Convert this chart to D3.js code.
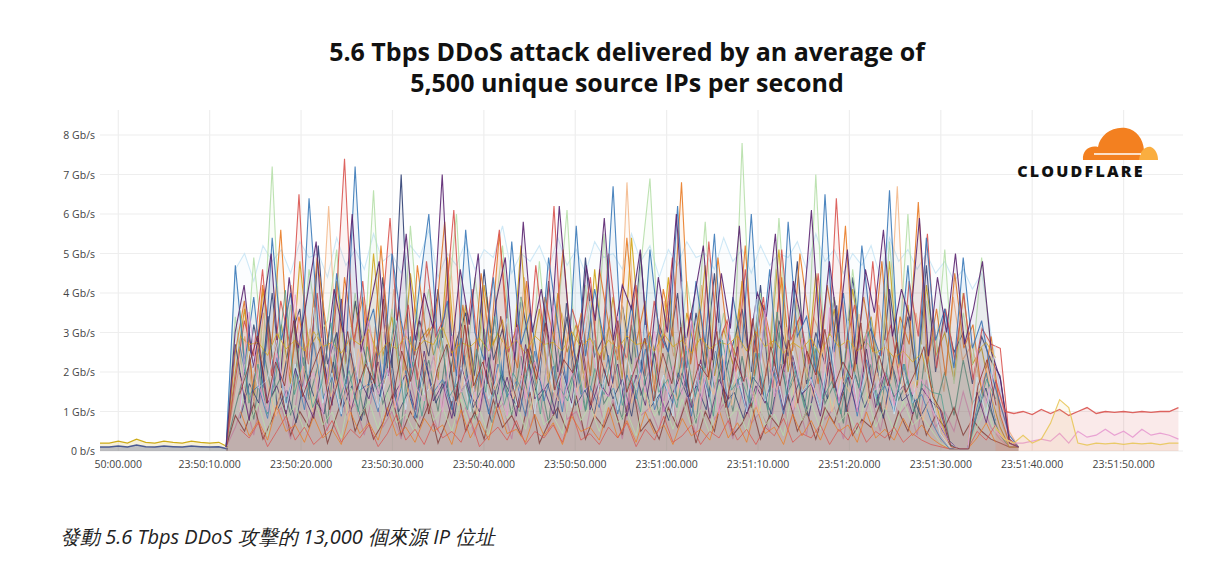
<!DOCTYPE html>
<html lang="en">
<head>
<meta charset="UTF-8">
<title>5.6 Tbps DDoS attack</title>
<script src="https://d3js.org/d3.v7.min.js"></script>
<style>
  body { margin: 0; background: #fff; font-family: "Open Sans", "DejaVu Sans", sans-serif; }
  svg text { font-family: "Open Sans", "DejaVu Sans", sans-serif; }
</style>
</head>
<body>
<svg id="chart" width="1226" height="575"></svg>
<script>
// time axis: seconds after 23:49:58
const tickSeconds = [2, 12, 22, 32, 42, 52, 62, 72, 82, 92, 102, 112];
const tickLabels = ["50:00.000", "23:50:10.000", "23:50:20.000", "23:50:30.000", "23:50:40.000",
  "23:50:50.000", "23:51:00.000", "23:51:10.000", "23:51:20.000", "23:51:30.000",
  "23:51:40.000", "23:51:50.000"];
const yTicks = [0, 1, 2, 3, 4, 5, 6, 7, 8];
const yLabels = ["0 b/s", "1 Gb/s", "2 Gb/s", "3 Gb/s", "4 Gb/s", "5 Gb/s", "6 Gb/s", "7 Gb/s", "8 Gb/s"];

// attack series, Gb/s, spread evenly between attackStart and attackEnd (seconds)
const attackStart = 13.8;
const attackEnd = 100.5;
const sPurple = [0.1,3.0,4.2,2.1,3.5,5.0,1.8,4.4,2.6,3.9,5.3,2.2,4.1,3.0,6.0,2.5,3.7,4.8,1.9,3.3,5.5,2.8,4.0,3.1,7.0,2.4,4.6,3.2,5.0,1.7,3.8,4.9,2.3,5.8,3.0,4.1,2.6,6.2,3.5,2.0,4.7,3.3,5.9,2.8,4.2,3.6,5.1,2.1,4.4,3.0,6.0,2.7,3.9,5.2,2.3,4.5,3.1,5.7,2.5,4.0,3.4,5.5,2.0,4.3,3.2,6.1,2.6,4.8,3.0,5.1,2.2,4.6,3.5,5.6,2.9,4.1,3.3,5.9,2.4,4.4,3.0,5.0,2.7,3.6,4.8,2.5,1.8,0.2,0.1];
const sOrange = [0.1,2.5,3.8,1.5,4.2,2.7,5.6,1.9,3.4,2.2,4.9,3.1,1.6,4.4,2.8,3.9,1.8,5.2,2.5,3.6,1.4,4.7,2.9,3.3,5.8,2.0,3.7,1.6,4.5,2.6,5.5,3.0,2.1,4.3,1.7,3.9,2.8,5.1,2.4,3.5,1.9,4.6,3.2,2.3,5.4,2.7,3.8,1.5,4.1,2.9,6.8,2.2,3.6,1.8,4.9,3.0,2.4,5.2,1.9,3.7,2.6,4.4,2.1,5.0,3.3,1.7,4.2,2.8,5.7,2.0,3.9,2.5,4.8,1.8,3.4,2.7,6.3,2.2,3.6,1.9,4.5,2.6,3.2,1.4,2.9,0.9,0.2,0.1];
const sBlue = [0.1,4.7,2.2,3.9,1.6,5.4,2.8,4.0,2.0,6.4,3.1,1.8,4.5,2.5,7.2,2.9,3.6,1.7,5.0,3.3,2.1,4.2,6.0,2.6,3.8,1.9,5.6,3.0,2.3,4.4,1.8,5.3,2.7,3.5,2.0,4.9,3.2,1.6,5.7,2.4,4.1,2.8,6.7,2.2,3.7,1.9,5.1,3.0,2.5,6.2,2.1,4.3,2.7,5.5,1.8,3.9,2.6,6.0,2.3,4.6,1.7,5.8,2.9,3.4,2.0,6.5,2.5,4.0,1.9,5.2,3.1,2.4,6.6,2.2,4.7,1.8,5.4,2.8,3.6,2.1,4.9,2.6,3.3,2.0,1.2,0.4,0.1];
const sRed = [0.1,1.8,3.3,2.4,4.6,1.9,3.8,2.7,6.5,2.2,4.0,1.7,3.5,7.4,2.6,4.3,2.0,3.1,5.9,2.4,3.7,1.8,4.8,2.9,3.4,6.1,2.2,4.1,1.6,3.9,5.6,2.5,3.2,1.9,4.7,2.7,6.2,2.1,3.6,2.8,4.4,1.7,5.0,3.0,2.3,4.2,1.9,3.8,2.6,4.9,2.1,3.5,1.8,5.3,2.7,3.3,2.0,4.6,2.5,3.9,1.6,5.1,2.8,3.4,2.2,4.5,1.9,6.4,2.6,3.7,2.0,4.8,2.4,3.2,1.7,4.3,2.9,5.5,2.1,3.6,2.3,4.0,1.8,3.1,2.7,2.6,0.3,0.1];
const sGreen = [0.1,3.4,1.6,4.9,2.5,7.2,2.0,3.7,1.8,4.6,2.9,3.3,5.1,1.9,4.0,2.6,6.6,2.2,3.6,1.7,5.7,2.8,4.1,2.0,3.5,6.0,1.9,4.4,2.6,3.1,5.2,2.3,3.9,1.8,4.8,2.4,3.4,6.1,2.1,4.2,1.7,5.5,2.7,3.6,2.0,4.7,6.9,2.5,3.8,1.9,4.3,2.8,5.8,2.2,3.5,1.6,7.8,2.4,4.0,2.0,5.9,2.6,3.7,1.8,7.0,2.3,3.9,2.1,4.6,2.7,3.3,1.9,5.3,2.5,6.0,2.0,3.8,2.4,5.1,1.7,3.5,2.2,4.9,2.6,0.8,0.2,0.1];
const sGold = [0.1,2.0,3.6,1.4,4.1,2.3,3.2,1.7,4.8,2.6,3.0,1.5,4.3,2.2,3.8,1.9,5.0,2.4,3.4,1.6,4.5,2.8,3.1,1.8,4.9,2.1,3.7,1.5,4.2,2.7,3.3,1.9,5.2,2.2,3.6,1.7,4.0,2.5,3.2,1.6,4.6,2.3,3.9,1.8,5.4,2.6,3.0,2.0,4.4,1.7,3.5,2.4,4.7,1.9,3.1,2.2,4.3,1.6,3.8,2.5,5.1,2.0,3.3,1.8,4.5,2.3,3.6,1.7,4.1,2.6,3.4,1.9,4.8,2.1,3.7,1.6,4.2,2.4,3.0,1.8,4.0,2.2,2.6,1.4,0.6,0.1,0.1];
const sNavy = [0.1,2.7,1.3,3.2,2.0,4.0,1.6,2.9,3.6,1.4,5.2,2.2,3.0,1.7,3.8,2.5,1.5,4.4,2.1,7.0,1.8,3.3,2.4,4.1,1.6,2.8,3.5,1.9,4.6,2.3,3.1,1.5,3.9,2.6,1.8,4.3,2.0,3.4,1.6,4.9,2.4,2.9,1.7,3.7,2.2,5.0,1.9,3.2,2.5,4.0,1.6,3.5,2.1,4.5,1.8,2.7,3.6,2.0,4.2,1.5,3.3,2.4,4.8,1.7,3.0,2.2,3.9,1.9,4.4,2.6,3.1,1.6,4.1,2.3,3.4,1.8,4.7,2.0,3.6,2.5,3.0,1.7,2.9,2.3,1.9,0.3,0.1];
const sPeach = [0.1,1.6,2.9,1.2,3.5,1.8,2.6,4.2,1.5,3.1,2.2,6.2,1.9,2.8,1.3,3.7,2.4,1.7,4.1,2.0,3.0,1.4,3.6,2.5,5.0,1.8,2.7,1.5,3.9,2.2,3.2,1.6,4.4,2.0,2.9,1.3,3.5,2.6,1.8,4.0,2.3,3.1,1.5,6.8,2.1,2.8,1.7,3.8,2.4,3.3,1.6,4.2,2.0,2.6,1.4,3.6,2.5,3.0,1.9,4.6,2.2,2.7,1.5,3.4,2.8,1.7,4.0,2.1,3.2,1.6,3.7,2.4,6.7,1.8,3.5,2.0,3.1,1.5,3.9,2.3,2.7,1.6,2.4,1.2,0.5,0.1];
const sTeal = [0.1,1.1,2.0,0.8,2.6,1.4,1.9,0.9,2.8,1.3,2.2,0.7,3.0,1.5,2.1,0.9,2.5,1.2,1.8,0.6,2.9,1.6,2.3,1.0,2.7,1.3,1.7,0.8,3.1,1.4,2.0,0.9,2.4,1.1,1.9,0.7,2.6,1.5,2.2,1.0,2.8,1.2,1.6,0.8,3.2,1.4,2.1,0.9,2.5,1.3,1.8,0.7,2.7,1.6,2.3,1.0,2.4,1.1,1.9,0.8,3.0,1.5,2.0,0.9,2.6,1.2,1.7,0.7,2.9,1.4,2.2,1.0,2.5,1.3,1.8,0.8,2.7,1.1,2.0,0.9,2.3,1.2,1.6,1.0,0.4,0.1,0.1];
const sRose = [0.1,0.6,1.3,0.4,1.7,0.8,1.1,0.3,1.9,0.7,1.4,0.5,2.1,0.9,1.2,0.4,1.6,0.6,1.0,0.3,1.8,0.8,1.3,0.5,2.0,0.7,1.1,0.4,1.5,0.9,1.2,0.3,1.9,0.6,1.4,0.5,2.2,0.8,1.0,0.4,1.7,0.7,1.3,0.3,1.6,0.9,1.1,0.5,2.0,0.6,1.4,0.4,1.8,0.8,1.2,0.3,1.5,0.7,1.0,0.5,1.9,0.6,1.3,0.4,2.1,0.8,1.1,0.3,1.7,0.7,1.4,0.5,1.6,0.9,1.2,0.4,1.8,0.6,1.0,0.5,1.5,0.7,1.2,0.6,0.3,0.1,0.1];
const sMaroon = [0.1,0.9,0.5,1.2,0.3,0.8,1.5,0.4,1.0,0.6,1.3,0.2,0.9,1.6,0.5,1.1,0.3,0.7,1.4,0.4,1.0,0.6,1.2,0.2,0.8,1.7,0.5,1.0,0.3,1.3,0.6,0.9,0.4,1.5,0.2,0.7,1.1,0.5,1.4,0.3,0.9,0.6,1.2,0.4,1.8,0.5,0.8,0.3,1.1,0.6,1.3,0.2,1.0,0.5,1.6,0.4,0.7,1.2,0.3,0.9,0.6,1.4,0.5,1.0,0.3,1.1,0.7,1.5,0.4,0.8,0.6,1.2,0.3,1.0,0.5,1.3,0.4,0.9,0.6,1.1,0.4,0.8,0.5,0.3,0.2,0.1,0.1];
const sSky = [0.1,4.6,5.0,4.3,5.2,4.8,5.1,4.5,5.3,4.9,5.0,4.4,5.4,4.7,5.1,4.6,5.5,4.8,5.0,4.5,5.2,4.9,5.6,4.4,5.0,4.7,5.3,4.6,5.1,4.9,5.7,4.5,5.0,4.8,5.2,4.6,5.4,4.7,5.1,4.5,5.3,4.9,5.0,4.6,5.5,4.8,5.2,4.4,5.1,4.7,5.3,4.9,5.0,4.6,5.4,4.8,5.1,4.5,5.2,4.7,5.0,4.9,5.3,4.6,5.5,4.8,5.1,4.5,5.0,4.7,5.2,4.4,5.4,4.8,5.1,4.6,5.0,4.5,4.8,4.3,4.6,4.1,4.5,3.0,1.5,0.3,0.1];

// before and after attack
const preValues = [0.2,0.2,0.25,0.2,0.3,0.22,0.2,0.25,0.22,0.2,0.25,0.22,0.2,0.22,0.1];
const tailStart = 98;
const tailRed = [1.8,1.0,0.95,1.0,0.92,1.05,0.95,1.05,0.9,1.0,1.1,0.95,1.0,0.98,1.0,0.97,1.0,0.98,1.0,1.0,1.1];
const tailPink = [0.5,0.3,0.2,0.2,0.25,0.3,0.25,0.45,0.2,0.5,0.35,0.4,0.55,0.4,0.5,0.35,0.55,0.4,0.45,0.4,0.3];
const tailGold = [0.6,0.3,0.2,0.4,0.2,0.3,0.7,1.3,1.1,0.2,0.15,0.2,0.18,0.2,0.17,0.2,0.18,0.2,0.16,0.2,0.2];

const attackSeries = [sSky, sPeach, sTeal, sRose, sMaroon, sGold, sNavy, sGreen, sOrange, sRed, sBlue, sPurple];
const attackColors = ["#c9e6f5", "#f3b98c", "#4a9c8c", "#e79ad0", "#8b2d2d", "#d2a515", "#2f3f73",
  "#b6dfa9", "#e97b25", "#d9534f", "#3b79b8", "#5a2470"];

const svg = d3.select("#chart");
const margin = { left: 100, right: 1183, top: 135, bottom: 451 };
const x = d3.scaleLinear().domain([0, 118.5]).range([margin.left, margin.right]);
const y = d3.scaleLinear().domain([0, 8]).range([margin.bottom, margin.top]);

// title
svg.append("text").attr("x", 627).attr("y", 61).attr("text-anchor", "middle")
  .attr("font-size", 25).attr("font-weight", 700).attr("fill", "#111")
  .text("5.6 Tbps DDoS attack delivered by an average of");
svg.append("text").attr("x", 627).attr("y", 92).attr("text-anchor", "middle")
  .attr("font-size", 25).attr("font-weight", 700).attr("fill", "#111")
  .text("5,500 unique source IPs per second");

// grid
svg.append("g").selectAll("line").data(yTicks).join("line")
  .attr("x1", margin.left).attr("x2", margin.right)
  .attr("y1", d => y(d)).attr("y2", d => y(d))
  .attr("stroke", "#eee").attr("stroke-width", 1.2);
svg.append("g").selectAll("line").data(tickSeconds).join("line")
  .attr("x1", d => x(d)).attr("x2", d => x(d))
  .attr("y1", margin.top - 25).attr("y2", margin.bottom)
  .attr("stroke", "#eee").attr("stroke-width", 1.2);

// axis labels
svg.append("g").selectAll("text").data(yTicks).join("text")
  .attr("x", 95).attr("y", d => y(d) + 4).attr("text-anchor", "end")
  .attr("font-size", 10.5).attr("fill", "#444").text((d, i) => yLabels[i]);
svg.append("g").selectAll("text").data(tickSeconds).join("text")
  .attr("x", d => x(d)).attr("y", 468).attr("text-anchor", "middle")
  .attr("font-size", 10.5).attr("fill", "#444").text((d, i) => tickLabels[i]);

const line = d3.line().x(d => x(d[0])).y(d => y(d[1]));
const area = d3.area().x(d => x(d[0])).y0(y(0)).y1(d => y(d[1]));
const plot = svg.append("g");

function draw(pts, color, width, fillOp) {
  plot.append("path").attr("d", area(pts)).attr("fill", color).attr("fill-opacity", fillOp);
  plot.append("path").attr("d", line(pts)).attr("fill", "none")
    .attr("stroke", color).attr("stroke-width", width).attr("stroke-opacity", 0.9);
}
const seq = (values, start, step) => values.map((v, i) => [start + i * step, v]);

// pre-attack baseline
draw(seq(preValues, 0, 1), "#c8a200", 1.2, 0.15);
draw(seq(preValues.map(v => v * 0.5), 0, 1), "#3b4d8c", 1.5, 0.3);

attackSeries.forEach((s, i) => {
  const step = (attackEnd - attackStart) / (s.length - 1);
  draw(seq(s, attackStart, step), attackColors[i], 1.1, 0.07);
});
// second pass, offset half a step, lower level
attackSeries.forEach((s, i) => {
  const step = (attackEnd - attackStart) / (s.length - 1);
  const pts = s.map((v, j) => [attackStart + (j + 0.5) * step, s[(j + 7) % s.length] * 0.55]);
  plot.append("path").attr("d", line(pts.slice(1, -3))).attr("fill", "none")
    .attr("stroke", attackColors[(i + 5) % attackColors.length]).attr("stroke-width", 0.9).attr("stroke-opacity", 0.85);
});

draw(seq(tailRed, tailStart, 1), "#d9534f", 1.3, 0.12);
draw(seq(tailPink, tailStart, 1), "#e79ad0", 1.2, 0.05);
draw(seq(tailGold, tailStart, 1), "#e8c65a", 1.2, 0.1);

// Cloudflare logo
const logo = svg.append("g");
logo.append("path")
  .attr("d", "M1083,160 C1082,150 1090,145 1098,147 C1100,135 1112,126 1126,128 C1137,130 1143,139 1144,150 L1147,160 Z")
  .attr("fill", "#f38020");
logo.append("path")
  .attr("d", "M1139,160 C1140,151 1145,146 1151,147 C1156,149 1158,155 1158,160 Z")
  .attr("fill", "#faae40");
logo.append("line").attr("x1", 1094).attr("x2", 1141).attr("y1", 154).attr("y2", 154)
  .attr("stroke", "#fff").attr("stroke-width", 1.4);
logo.append("text").attr("x", 1081).attr("y", 177).attr("text-anchor", "middle")
  .attr("font-size", 16).attr("font-weight", 800).attr("letter-spacing", 2.2)
  .attr("font-family", "Roboto, sans-serif").attr("fill", "#111").text("CLOUDFLARE");

// caption
svg.append("text").attr("x", 60).attr("y", 544).attr("font-size", 20)
  .attr("font-style", "italic").attr("fill", "#222")
  .attr("font-family", "'Noto Sans CJK TC', 'Noto Sans', sans-serif")
  .text("發動 5.6 Tbps DDoS 攻擊的 13,000 個來源 IP 位址");
</script>
</body>
</html>
